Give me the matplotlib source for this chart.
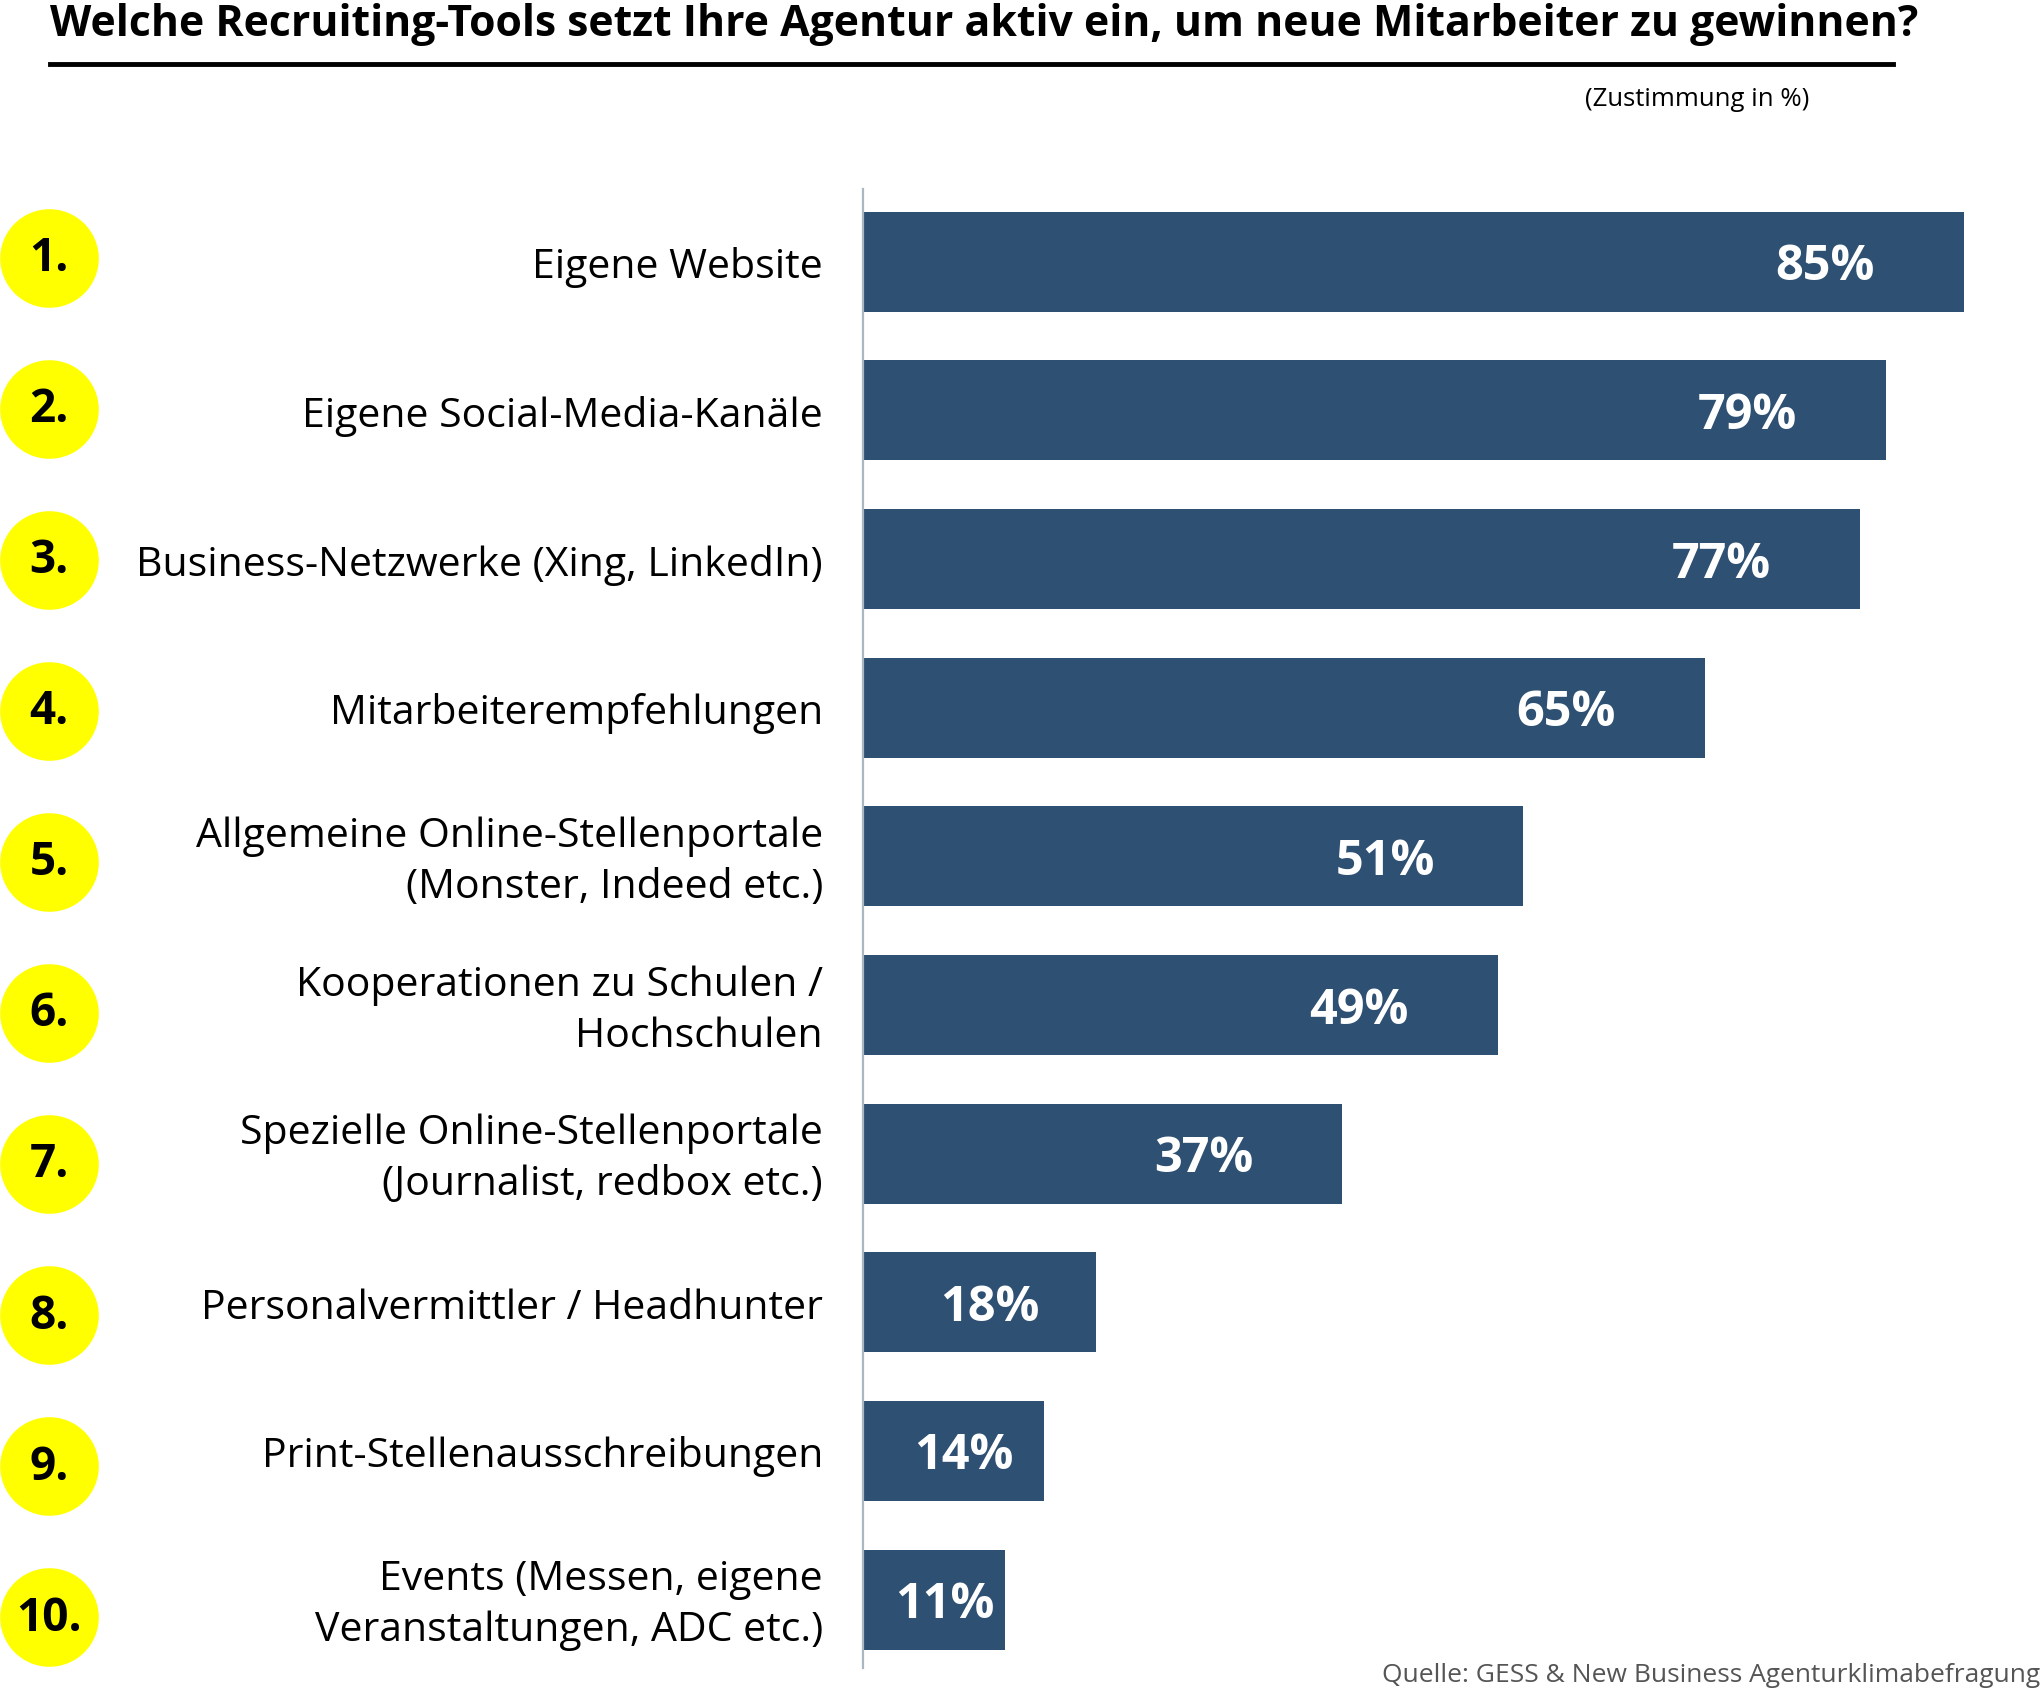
import matplotlib
matplotlib.use("Agg")
import matplotlib.pyplot as plt
from matplotlib.lines import Line2D

plt.rcParams['font.family'] = ['Open Sans', 'DejaVu Sans']

# data
ranks = ['1.', '2.', '3.', '4.', '5.', '6.', '7.', '8.', '9.', '10.']
categories = [
    'Eigene Website',
    'Eigene Social-Media-Kanäle',
    'Business-Netzwerke (Xing, LinkedIn)',
    'Mitarbeiterempfehlungen',
    'Allgemeine Online-Stellenportale\n(Monster, Indeed etc.)',
    'Kooperationen zu Schulen /\nHochschulen',
    'Spezielle Online-Stellenportale\n(Journalist, redbox etc.)',
    'Personalvermittler / Headhunter',
    'Print-Stellenausschreibungen',
    'Events (Messen, eigene\nVeranstaltungen, ADC etc.)',
]
values = [85, 79, 77, 65, 51, 49, 37, 18, 14, 11]

title = 'Welche Recruiting-Tools setzt Ihre Agentur aktiv ein, um neue Mitarbeiter zu gewinnen?'
unit_note = '(Zustimmung in %)'
source = 'Quelle: GESS & New Business Agenturklimabefragung'

BAR_COLOR = '#2e5073'
CIRCLE_COLOR = '#ffff00'

W, H = 2043, 1691
fig = plt.figure(figsize=(W / 100, H / 100), dpi=100)

# bar area: axis line at x~863px, from y=189px to 1668px
X0 = 863
PX_PER_PCT = 12.95
ax = fig.add_axes([X0 / W, (H - 1668) / H, (W - X0) / W, (1668 - 189) / H])
y = list(range(len(values)))
ax.barh(y, values, height=0.673, color=BAR_COLOR)
ax.set_xlim(0, (W - X0) / PX_PER_PCT)
ax.set_ylim(9.46, -0.49)

for s in ['top', 'right', 'bottom']:
    ax.spines[s].set_visible(False)
ax.spines['left'].set_color('#a9b8c0')
ax.spines['left'].set_linewidth(1.6)
ax.set_xticks([])
ax.set_yticks([])

# value labels inside the bars
for i, v in enumerate(values):
    ax.text(max(v - 10.7, v / 2 + 0.8), i, f'{v}%', ha='center', va='center_baseline',
            color='white', fontsize=35, fontweight='bold')

# category labels left of the axis
for i, c in enumerate(categories):
    ax.text(-40 / PX_PER_PCT, i + 0.04, c, ha='right', va='center', multialignment='right',
            fontsize=29.5, color='black', linespacing=1.35)

# yellow rank circles
x_circle = (49 - X0) / PX_PER_PCT
circle_y = [-0.027 + i * 1.016 for i in y]
ax.scatter([x_circle] * len(y), circle_y, s=71 ** 2, color=CIRCLE_COLOR,
           clip_on=False, zorder=3, linewidths=0)
for cy, r in zip(circle_y, ranks):
    ax.text(x_circle, cy - 0.03, r, ha='center', va='center_baseline', fontsize=33,
            fontweight='bold', color='black', zorder=4, clip_on=False)

# title, rule, notes
fig.text(50 / W, 1 - 36 / H, title, ha='left', va='baseline', fontsize=30.8,
         fontweight='bold', color='black')
fig.add_artist(Line2D([50 / W, 1893 / W], [1 - 64 / H, 1 - 64 / H], color='black',
                      linewidth=3.5, transform=fig.transFigure))
fig.text(1697 / W, 1 - 99 / H, unit_note, ha='center', va='center', fontsize=18.5,
         color='black')
fig.text(2040 / W, 1 - 1682 / H, source, ha='right', va='baseline', fontsize=19,
         color='#555555')

fig.savefig('out.png', dpi=100, facecolor='white')
